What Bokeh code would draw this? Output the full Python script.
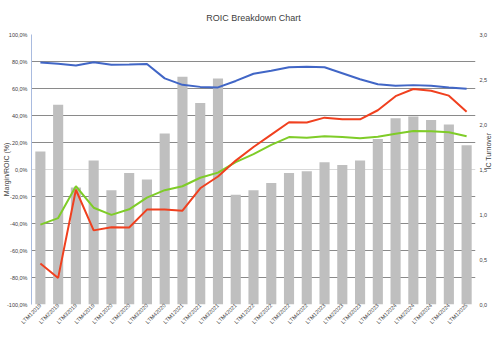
import math
from bokeh.plotting import figure
from bokeh.models import (FactorRange, Range1d, LinearAxis, FixedTicker,
                          CustomJSTickFormatter, Legend, LegendItem, Span)
from bokeh.embed import file_html
from bokeh.resources import INLINE

periods = ["LTM12019", "LTM22019", "LTM32019", "LTM42019",
           "LTM12020", "LTM22020", "LTM32020", "LTM42020",
           "LTM12021", "LTM22021", "LTM32021", "LTM42021",
           "LTM12022", "LTM22022", "LTM32022", "LTM42022",
           "LTM12023", "LTM22023", "LTM32023", "LTM42023",
           "LTM12024", "LTM22024", "LTM32024", "LTM42024",
           "LTM12025"]
ic_turnover = [1.70, 2.22, 1.30, 1.60, 1.27, 1.46, 1.39, 1.90, 2.53, 2.24,
               2.51, 1.22, 1.27, 1.35, 1.46, 1.48, 1.58, 1.55, 1.60, 1.84,
               2.07, 2.09, 2.05, 2.00, 1.77]
gross_profit = [79.3, 78.3, 77.1, 79.5, 77.6, 77.8, 78.1, 67.5, 62.7, 61.2,
                60.8, 65.6, 70.9, 73.1, 75.7, 76.2, 75.7, 71.3, 66.8, 63.2,
                62.0, 62.5, 62.0, 60.8, 59.8]
op_inc = [-40.8, -36.0, -12.4, -28.3, -33.6, -29.5, -20.8, -15.3, -12.4, -6.1,
          -2.3, 5.5, 11.4, 18.2, 24.0, 23.5, 24.7, 24.0, 23.2, 24.2,
          26.4, 28.5, 28.3, 27.6, 24.7]
roic = [-69.7, -80.3, -15.0, -45.1, -42.7, -43.0, -29.7, -29.7, -30.5, -13.9,
        -5.2, 6.6, 16.7, 25.8, 35.0, 34.8, 38.4, 37.2, 37.2, 43.9,
        54.3, 59.6, 58.3, 54.7, 42.7]
left_ticks = [-100, -80, -60, -40, -20, 0, 20, 40, 60, 80, 100]
right_ticks = [0, 0.5, 1.0, 1.5, 2.0, 2.5, 3.0]

FONT = "Liberation Sans"
TXT = "#404040"

p = figure(frame_width=444, frame_height=270, x_range=FactorRange(factors=periods),
           y_range=Range1d(-100, 100), output_backend="svg",
           toolbar_location=None, min_border_left=31, min_border_right=25,
           min_border_top=34, min_border_bottom=45,
           title="ROIC Breakdown Chart")
p.extra_y_ranges = {"turn": Range1d(0, 3)}
p.outline_line_color = None
p.background_fill_color = "white"
p.border_fill_color = "white"

p.title.align = "center"
p.title.vertical_align = "top"
p.title.text_font = FONT
p.title.text_font_size = "9px"
p.title.text_font_style = "normal"
p.title.text_color = TXT
p.title.standoff = 20

p.xgrid.visible = False
p.ygrid.ticker = FixedTicker(ticks=[t for t in left_ticks if t != 0])
p.ygrid.grid_line_color = "#8a8a8a"
p.ygrid.grid_line_width = 1

zero = Span(location=0, dimension="width", line_color="#d9d9d9",
            line_width=1, level="underlay")
p.add_layout(zero)

bars = p.vbar(x=periods, top=ic_turnover, bottom=0, width=0.57,
              y_range_name="turn", fill_color="#bfbfbf", line_color=None)
l_gp = p.line(periods, gross_profit, line_color="#4166c6", line_width=2)
l_op = p.line(periods, op_inc, line_color="#7fcc28", line_width=2)
l_ro = p.line(periods, roic, line_color="#f0401f", line_width=2)

ya = p.yaxis[0]
ya.ticker = FixedTicker(ticks=left_ticks)
ya.formatter = CustomJSTickFormatter(code="return tick.toFixed(1).replace('.', ',') + '%';")
ya.axis_label = "Margin/ROIC (%)"
ya.axis_line_color = "#a9bbdf"
ya.major_label_standoff = 4
ya.axis_label_standoff = -6

ra = LinearAxis(y_range_name="turn", axis_label="IC Turnover")
ra.ticker = FixedTicker(ticks=right_ticks)
ra.formatter = CustomJSTickFormatter(code="return tick.toFixed(1).replace('.', ',');")
ra.axis_line_color = None
ra.major_label_standoff = 4
ra.axis_label_standoff = -2
ra.axis_label_orientation = math.pi / 2
p.add_layout(ra, "right")

xa = p.xaxis[0]
xa.major_label_orientation = math.pi / 4
xa.axis_line_color = None
xa.major_label_standoff = 0
xa.major_label_text_align = "right"
xa.major_label_text_baseline = "middle"

for ax in (ya, ra, xa):
    ax.major_tick_line_color = None
    ax.minor_tick_line_color = None
    ax.major_tick_out = 0
    ax.major_tick_in = 0
    ax.minor_tick_out = 0
    ax.minor_tick_in = 0
    ax.major_label_text_font = FONT
    ax.major_label_text_font_size = "5.5px"
    ax.major_label_text_color = TXT
    ax.axis_label_text_font = FONT
    ax.axis_label_text_font_size = "7px"
    ax.axis_label_text_font_style = "normal"
    ax.axis_label_text_color = TXT

legend = Legend(items=[LegendItem(label="IC Turnover", renderers=[bars]),
                       LegendItem(label="Gross Profit (%)", renderers=[l_gp]),
                       LegendItem(label="Op. Inc. (%)", renderers=[l_op]),
                       LegendItem(label="ROIC", renderers=[l_ro])],
                orientation="horizontal", location="center",
                border_line_color=None, background_fill_alpha=0,
                label_text_font=FONT, label_text_font_size="7px",
                label_text_color=TXT, glyph_width=14, glyph_height=5,
                label_height=9, spacing=10, padding=0, margin=0,
                label_standoff=1)
p.add_layout(legend, "below")

open("out.html", "w").write(file_html(p, INLINE))
